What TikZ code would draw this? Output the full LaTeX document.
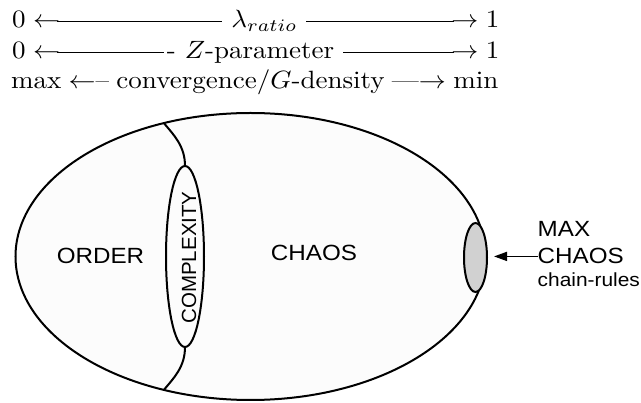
\documentclass[tikz,border=0pt]{standalone}
\usepackage{fontspec}
\usepackage{graphicx}
\usetikzlibrary{shapes.geometric,arrows.meta}
\newfontfamily\hv{Liberation Sans}
\newcommand\dfill[1]{\leaders\hrule height .27em depth -.23em\hskip 0pt plus #1fil\relax}
\newcommand\toprow[1]{\scalebox{2.7}[2.5]{\fontsize{10}{12}\selectfont\hbox to 180.4pt{#1}}}
\newcommand\hx[1]{\scalebox{1.1}[1]{#1}}
\begin{document}
\begin{tikzpicture}[x=1pt,y=-1pt,
  region/.style={draw, line width=2pt, ellipse, inner sep=0pt, outer sep=0pt},
  bigfont/.style={font=\hv\fontsize{22}{26}\selectfont, inner sep=0pt},
  toptext/.style={anchor=base west, inner sep=0pt},
  border/.style={line width=2pt}]
\path[use as bounding box, fill=white] (0,0) rectangle (641,403);
% top text
\node[toptext] (l1) at (12,28) {\toprow{$0\leftarrow$\kern-.1em\dfill{162}\ $\lambda_{ratio}$\ \dfill{145}\kern-.1em$\rightarrow1$}};
\node[toptext] (l2) at (12,58.5) {\toprow{$0\leftarrow$\kern-.1em\dfill{103}\kern.1em-\ $Z$-parameter\ \dfill{107}\kern-.1em$\rightarrow1$}};
\node[toptext] (l3) at (11,89) {\toprow{max $\leftarrow$-- convergence/$G$-density ---$\rightarrow$ min}};
% regions
\node[region, fill=black!1, minimum width=470pt, minimum height=287pt] (world) at (250.5,256.5) {};
\node[region, fill=black!18, minimum width=23pt, minimum height=69pt] (grey) at (475.5,257.5) {};
\node[region, fill=black!1, minimum width=38pt, minimum height=181pt] (cx) at (185,256.5) {};
\draw[border] (cx.north) .. controls +(0,-20) and +(10,12) .. (world.123);
\draw[border] (cx.south) .. controls +(0,20) and +(10,-12) .. (world.-123);
% labels
\node[bigfont] (order) at (100.5,255.5) {\hx{ORDER}};
\node[bigfont] (chaos) at (314,252.5) {\hx{CHAOS}};
\node[inner sep=0pt, rotate=90, font=\hv\fontsize{20.5}{24}\selectfont] (cplx) at (189,257.5) {COMPLEXITY};
\node[bigfont, anchor=base west] (max) at (537.5,237) {\hx{MAX}};
\node[bigfont, anchor=base west] (mchaos) at (537.5,264) {\hx{CHAOS}};
\node[inner sep=0pt, anchor=base west, font=\hv\fontsize{19}{22}\selectfont] (rules) at (537.5,287) {\hx{chain-rules}};
\draw[line width=1.6pt, -{Triangle[length=13pt,width=9pt]}, shorten >=7pt] (mchaos.west) -- (mchaos.west -| grey.east);
\end{tikzpicture}
\end{document}
